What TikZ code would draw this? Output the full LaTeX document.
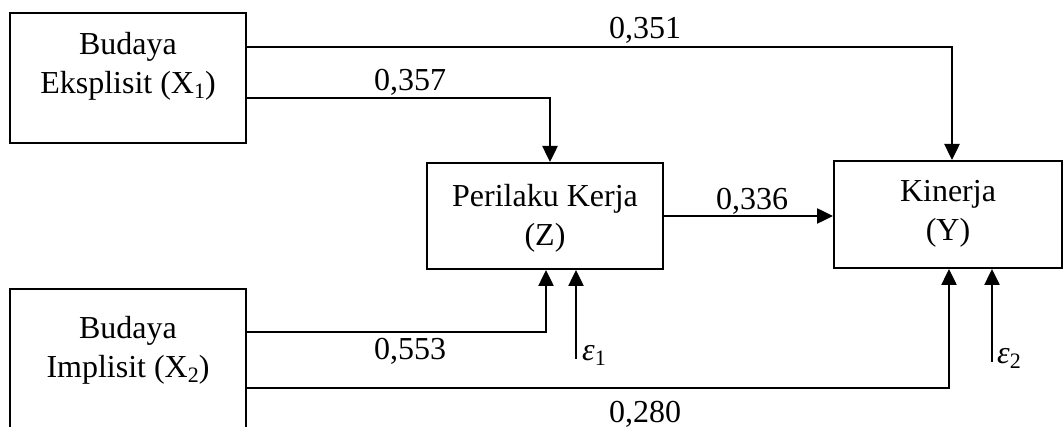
\documentclass[tikz,border=0pt]{standalone}
\usepackage{fontspec}
\setmainfont{Liberation Serif}
\usetikzlibrary{arrows.meta}
\newcommand\lowsub[1]{\raisebox{-0.35ex}{\fontsize{22}{22}\selectfont #1}}
\tikzset{
  box/.style={draw, line width=2pt, rectangle, inner sep=0pt},
  txt/.style={inner sep=0pt, align=center, font=\fontsize{32}{39}\selectfont},
  coef/.style={inner sep=0pt, font=\fontsize{32}{39}\selectfont},
  conn/.style={line width=2.5pt, -{Triangle[length=16pt,width=15pt]}},
}
\begin{document}
\begin{tikzpicture}[x=1pt, y=-1pt]
\useasboundingbox (0,0) rectangle (1063,427);

% variable boxes
\node[box, minimum width=236pt, minimum height=130pt] (x1) at (128,78) {};
\node[box, minimum width=236pt, minimum height=151pt] (x2) at (128,364.5) {};
\node[box, minimum width=236pt, minimum height=106pt] (z)  at (545,216) {};
\node[box, minimum width=228pt, minimum height=107pt] (y)  at (948,214.5) {};

% box captions
\node[txt] (tx1) at (128,66) {Budaya\\Eksplisit (X\lowsub{1})};
\node[txt] (tx2) at (128,350) {Budaya\\Implisit (X\lowsub{2})};
\node[txt] (tz)  at (545,218) {Perilaku Kerja\\(Z)};
\node[txt] (ty)  at (948,214) {Kinerja\\(Y)};

% error terms
\coordinate (e1) at (576,359);
\coordinate (e2) at (992,362);
\node[coef, anchor=south west] (le1) at (582,366) {\textit{ε}\lowsub{1}};
\node[coef, anchor=south west] (le2) at (997,369) {\textit{ε}\lowsub{2}};

% paths
\draw[conn] (x1.east |- 0,47) -| (y.north -| 952,0);
\draw[conn] (x1.east |- 0,98) -| (z.north -| 550,0);
\draw[conn] (z.east |- 0,216) -- (y.west |- 0,216);
\draw[conn] (x2.east |- 0,332) -| (z.south -| 546,0);
\draw[conn] (x2.east |- 0,388) -| (y.south -| 949,0);
\draw[conn] (e1) -- (z.south -| e1);
\draw[conn] (e2) -- (y.south -| e2);

% path coefficients
\node[coef] (c1) at (645,30) {0,351};
\node[coef] (c2) at (410,82) {0,357};
\node[coef] (c3) at (752,201) {0,336};
\node[coef] (c4) at (410,351) {0,553};
\node[coef] (c5) at (645,414) {0,280};
\end{tikzpicture}
\end{document}
